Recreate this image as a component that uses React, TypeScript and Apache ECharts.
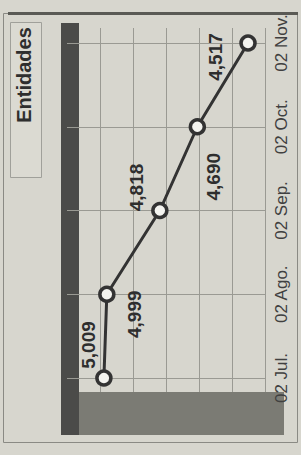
import React, { useEffect, useRef } from "react";
import * as echarts from "echarts";

const categories = ["02 Jul.", "02 Ago.", "02 Sep.", "02 Oct.", "02 Nov."];
const values = [5009, 4999, 4818, 4690, 4517];
const titleText = "Entidades";

// desired on-screen label offsets from each point (dx, dy)
const labelShift: [number, number][] = [
  [-15, -33],
  [28, 20],
  [-23, -23],
  [16, 50],
  [-33, 14],
];

const FONT = "Liberation Sans, Arial, sans-serif";

export default function App() {
  const ref = useRef<HTMLDivElement>(null);
  useEffect(() => {
    if (!ref.current) return;
    const chart = echarts.init(ref.current, undefined, { renderer: "svg" });
    const option: any = {
      animation: false,
      backgroundColor: "#d7d6ce",
      grid: [
        { left: 67, right: 36, top: 43, bottom: 77 },
        { left: 67, right: 36, top: 28, bottom: 63 },
      ],
      xAxis: [
        { type: "value", gridIndex: 0, inverse: true, min: 4459, max: 5135, show: false },
        {
          type: "value",
          gridIndex: 1,
          min: 0,
          max: 6,
          interval: 1,
          axisLine: { show: false },
          axisTick: { show: false },
          axisLabel: { show: false },
          splitLine: { show: true, lineStyle: { color: "#9a9a93", width: 1 } },
        },
      ],
      yAxis: [
        {
          type: "category",
          gridIndex: 0,
          z: 3,
          data: categories,
          position: "right",
          boundaryGap: false,
          axisLine: { show: false },
          axisTick: { show: false },
          axisLabel: {
            rotate: 90,
            margin: 8,
            fontSize: 17,
            color: "#404040",
            fontFamily: FONT,
          },
          splitLine: { show: true, lineStyle: { color: "#9a9a93", width: 1 } },
        },
        { type: "value", gridIndex: 1, show: false },
      ],
      graphic: [
        { type: "rect", z: 1, shape: { x: 3.5, y: 13.5, width: 294, height: 429 }, style: { fill: "none", stroke: "#8a8a84", lineWidth: 1 } },
        { type: "rect", z: 1, shape: { x: 8, y: 12, width: 290, height: 3 }, style: { fill: "#5a5a55" } },
        { type: "rect", z: 1, shape: { x: 10.5, y: 22.5, width: 31, height: 155 }, style: { fill: "#dbdad2", stroke: "#a0a09a", lineWidth: 1 } },
        {
          type: "text",
          z: 2,
          x: 24,
          y: 75,
          rotation: Math.PI / 2,
          style: {
            text: titleText,
            font: "bold 20px " + FONT,
            fill: "#2e2e2e",
            align: "center",
            verticalAlign: "middle",
          },
        },
        { type: "rect", z: 1, shape: { x: 61, y: 23, width: 18, height: 412 }, style: { fill: "#4b4b49" } },
        { type: "rect", z: 1, shape: { x: 79, y: 392, width: 205, height: 43 }, style: { fill: "#7b7b74" } },
      ],
      series: [
        {
          type: "line",
          xAxisIndex: 0,
          yAxisIndex: 0,
          z: 4,
          symbol: "circle",
          symbolSize: 14,
          lineStyle: { color: "#333", width: 3 },
          itemStyle: { color: "#f4f4f0", borderColor: "#333", borderWidth: 3.5 },
          label: {
            show: true,
            position: "inside",
            rotate: 90,
            align: "center",
            verticalAlign: "middle",
            fontSize: 19,
            fontWeight: "bold",
            fontFamily: FONT,
            color: "#2e2e2e",
            formatter: (p: any) => Number(p.value[0]).toLocaleString("en-US"),
          },
          data: values.map((v, i) => ({
            value: [v, categories[i]],
            label: { offset: [-labelShift[i][1], labelShift[i][0]] },
          })),
        },
      ],
    };
    chart.setOption(option);
    return () => chart.dispose();
  }, []);
  return (
    <div
      ref={ref}
      style={{ position: "fixed", left: 0, top: 0, width: 301, height: 455 }}
    />
  );
}
